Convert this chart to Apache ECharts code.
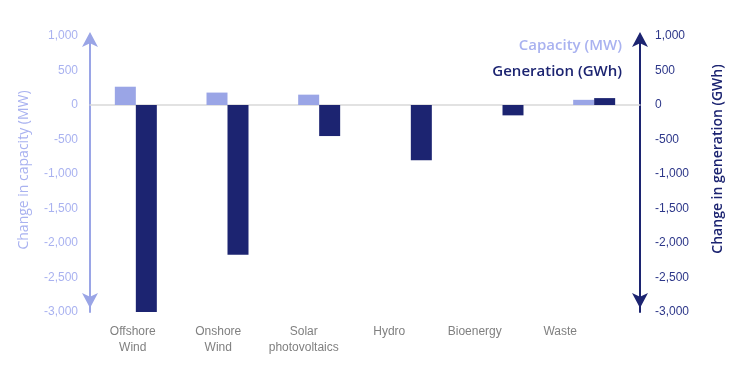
<!DOCTYPE html>
<html><head><meta charset="utf-8">
<script src="https://cdn.jsdelivr.net/npm/echarts@6/dist/echarts.min.js"></script>
<style>html,body{margin:0;padding:0;background:#fff}#c{width:733px;height:370px}</style>
</head><body><div id="c"></div>
<script>
const categories = ['Offshore\nWind', 'Onshore\nWind', 'Solar\nphotovoltaics', 'Hydro', 'Bioenergy', 'Waste'];
const capacityMW = [265, 180, 150, 0, 0, 75];
const generationGWh = [-3000, -2170, -450, -800, -150, 100];
const yTicks = { min: -3000, max: 1000, interval: 500 };

const LIGHT = '#9aa5e6';
const DARK = '#1c2471';
const LIGHT_TXT = '#a9b2f0';
const DARK_TXT = '#2d3789';

const chart = echarts.init(document.getElementById('c'));
const fmt = v => v.toLocaleString('en-US');
chart.setOption({
  animation: false,
  textStyle: { fontFamily: 'Liberation Sans, Arial, sans-serif' },
  legend: {
    orient: 'vertical', right: 101, top: 33, align: 'right',
    icon: 'none', itemWidth: 0, itemGap: 11,
    selectedMode: false,
    data: [
      { name: 'Capacity (MW)', textStyle: { color: LIGHT_TXT } },
      { name: 'Generation (GWh)', textStyle: { color: DARK } }
    ],
    textStyle: { fontFamily: 'Open Sans', fontWeight: 600, fontSize: 15 }
  },
  grid: [
    { left: 90, right: 93, top: 36, bottom: 58, containLabel: false, outerBoundsMode: 'none' },
    { left: 90, width: 513, top: 36, bottom: 58, containLabel: false, outerBoundsMode: 'none' }
  ],
  xAxis: [
    { type: 'category', gridIndex: 0, data: categories,
      axisLine: { onZero: true, lineStyle: { color: '#d9d9d9', width: 1.5 } },
      axisTick: { show: false }, axisLabel: { show: false } },
    { type: 'category', gridIndex: 1, data: categories, position: 'bottom',
      axisLine: { show: false }, axisTick: { show: false },
      axisLabel: { interval: 0, color: '#808080', fontSize: 12, margin: 12, lineHeight: 16 } }
  ],
  yAxis: [
    { type: 'value', gridIndex: 0, position: 'left', min: yTicks.min, max: yTicks.max, interval: yTicks.interval,
      splitLine: { show: false },
      axisLine: { show: true, symbol: ['arrow', 'arrow'], symbolSize: [12, 15], symbolOffset: [4, 4], lineStyle: { color: LIGHT, width: 2 } },
      axisTick: { show: false },
      axisLabel: { color: LIGHT_TXT, fontSize: 12, margin: 12, formatter: fmt },
      name: 'Change in capacity (MW)', nameLocation: 'middle', nameGap: 59,
      nameTextStyle: { color: LIGHT_TXT, fontSize: 14, fontFamily: 'Open Sans', padding: [0, 0, 0, 8] } },
    { type: 'value', gridIndex: 0, position: 'right', min: yTicks.min, max: yTicks.max, interval: yTicks.interval,
      splitLine: { show: false },
      axisLine: { show: true, symbol: ['arrow', 'arrow'], symbolSize: [12, 15], symbolOffset: [4, 4], lineStyle: { color: DARK, width: 2 } },
      axisTick: { show: false },
      axisLabel: { color: DARK_TXT, fontSize: 12, margin: 15, formatter: fmt },
      name: 'Change in generation (GWh)', nameLocation: 'middle', nameGap: 71,
      nameTextStyle: { color: DARK, fontSize: 14, fontWeight: 600, fontFamily: 'Open Sans', padding: [0, 0, 0, 30] } },
    { type: 'value', gridIndex: 1, show: false, min: yTicks.min, max: yTicks.max }
  ],
  series: [
    { name: 'Capacity (MW)', type: 'bar', xAxisIndex: 0, yAxisIndex: 0, data: capacityMW,
      barWidth: 21, barGap: '0%', itemStyle: { color: LIGHT } },
    { name: 'Generation (GWh)', type: 'bar', xAxisIndex: 0, yAxisIndex: 1, data: generationGWh,
      barWidth: 21, barGap: '0%', itemStyle: { color: DARK } }
  ]
});
</script></body></html>
